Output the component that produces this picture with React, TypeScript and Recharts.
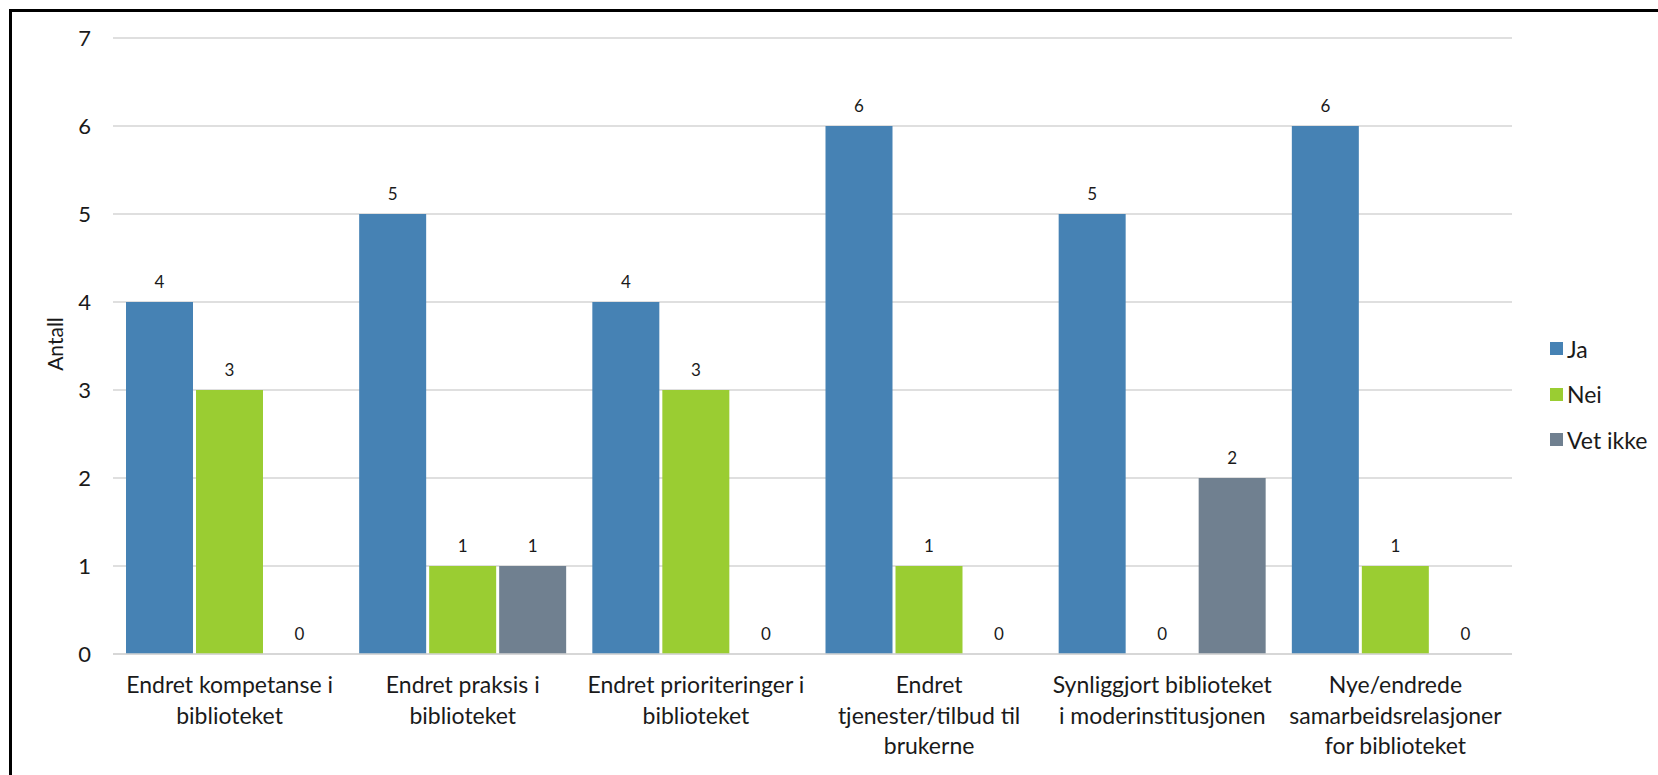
import React from "react";
import {
  BarChart,
  Bar,
  XAxis,
  YAxis,
  CartesianGrid,
  Legend,
  LabelList,
  Label,
} from "recharts";

// category labels, already broken into the lines shown under each group
const CATEGORIES = [
  "Endret kompetanse i\nbiblioteket",
  "Endret praksis i\nbiblioteket",
  "Endret prioriteringer i\nbiblioteket",
  "Endret\ntjenester/tilbud til\nbrukerne",
  "Synliggjort biblioteket\ni moderinstitusjonen",
  "Nye/endrede\nsamarbeidsrelasjoner\nfor biblioteket",
];
const JA = [4, 5, 4, 6, 5, 6];
const NEI = [3, 1, 3, 1, 0, 1];
const VET_IKKE = [0, 1, 0, 0, 2, 0];
const Y_TICKS = [0, 1, 2, 3, 4, 5, 6, 7];

const SERIES = [
  { key: "Ja", color: "#4682B4" },
  { key: "Nei", color: "#9ACD32" },
  { key: "Vet ikke", color: "#708090" },
];

const FONT = "Lato, 'Noto Sans', sans-serif";
const INK = "#1a1a1a";

const data = CATEGORIES.map((c, i) => ({
  name: c,
  Ja: JA[i],
  Nei: NEI[i],
  "Vet ikke": VET_IKKE[i],
}));

function CategoryTick({ x, y, payload }: any) {
  const lines = String(payload.value).split("\n");
  return (
    <text x={x} y={y} textAnchor="middle" fill={INK} fontSize={23} fontFamily={FONT}>
      {lines.map((l, i) => (
        <tspan key={i} x={x} dy={i === 0 ? 31 : 30.5}>
          {l}
        </tspan>
      ))}
    </text>
  );
}

// draws the value above each bar, zeros included
function ValueLabel(props: any) {
  const { x, y, width, value } = props;
  return (
    <text
      x={Number(x) + Number(width) / 2}
      y={Number(y) - 14}
      textAnchor="middle"
      fill={INK}
      fontSize={17}
      fontFamily={FONT}
    >
      {Math.round(Number(value))}
    </text>
  );
}

function AxisTitle(props: any) {
  const vb = props.viewBox || {};
  const cx = vb.x + vb.width / 2 - 2;
  const cy = vb.y + vb.height / 2 - 2;
  return (
    <text
      x={cx}
      y={cy}
      transform={`rotate(-90 ${cx} ${cy})`}
      textAnchor="middle"
      dominantBaseline="central"
      fill={INK}
      fontSize={21}
      fontFamily={FONT}
    >
      Antall
    </text>
  );
}

function LegendBox({ payload }: any) {
  return (
    <div style={{ fontFamily: FONT, fontSize: 23, color: INK }}>
      {(payload || []).map((p: any) => (
        <div key={p.value} style={{ display: "flex", alignItems: "center", height: 45.5 }}>
          <span
            style={{ width: 13, height: 13, background: p.color, display: "inline-block", marginRight: 4 }}
          />
          {p.value}
        </div>
      ))}
    </div>
  );
}

export default function App() {
  return (
    <div
      style={{
        position: "fixed",
        left: 0,
        top: 0,
        width: 1658,
        height: 775,
        background: "#fff",
        overflow: "hidden",
      }}
    >
      <div
        style={{
          position: "absolute",
          left: 9,
          top: 9,
          width: 1700,
          height: 800,
          borderLeft: "3px solid #000",
          borderTop: "3px solid #000",
        }}
      />
      <BarChart
        width={1658}
        height={775}
        data={data}
        margin={{ top: 38, right: 146, bottom: 21, left: 0 }}
        barCategoryGap={13}
        barGap={3}
        style={{ position: "absolute", left: 0, top: 0, fontFamily: FONT }}
      >
        <CartesianGrid vertical={false} stroke="#d4d4d4" strokeWidth={1.5} />
        <XAxis
          dataKey="name"
          height={100}
          interval={0}
          tickLine={false}
          axisLine={{ stroke: "#d4d4d4", strokeWidth: 1.5 }}
          tick={<CategoryTick />}
        />
        <YAxis
          width={113}
          domain={[0, 7]}
          ticks={Y_TICKS}
          tickLine={false}
          axisLine={false}
          tickMargin={16}
          tick={{ fill: INK, fontSize: 22, fontFamily: FONT }}
        >
          <Label value="Antall" position="center" content={AxisTitle} />
        </YAxis>
        <Legend
          layout="vertical"
          align="center"
          verticalAlign="middle"
          wrapperStyle={{ left: 1550, top: 326, width: 110 }}
          content={<LegendBox />}
        />
        {SERIES.map((s) => (
          <Bar
            key={s.key}
            dataKey={s.key}
            fill={s.color}
            minPointSize={(v: number) => (v === 0 ? 0.01 : 0)}
            isAnimationActive={false}
          >
            <LabelList dataKey={s.key} content={ValueLabel} />
          </Bar>
        ))}
      </BarChart>
    </div>
  );
}
